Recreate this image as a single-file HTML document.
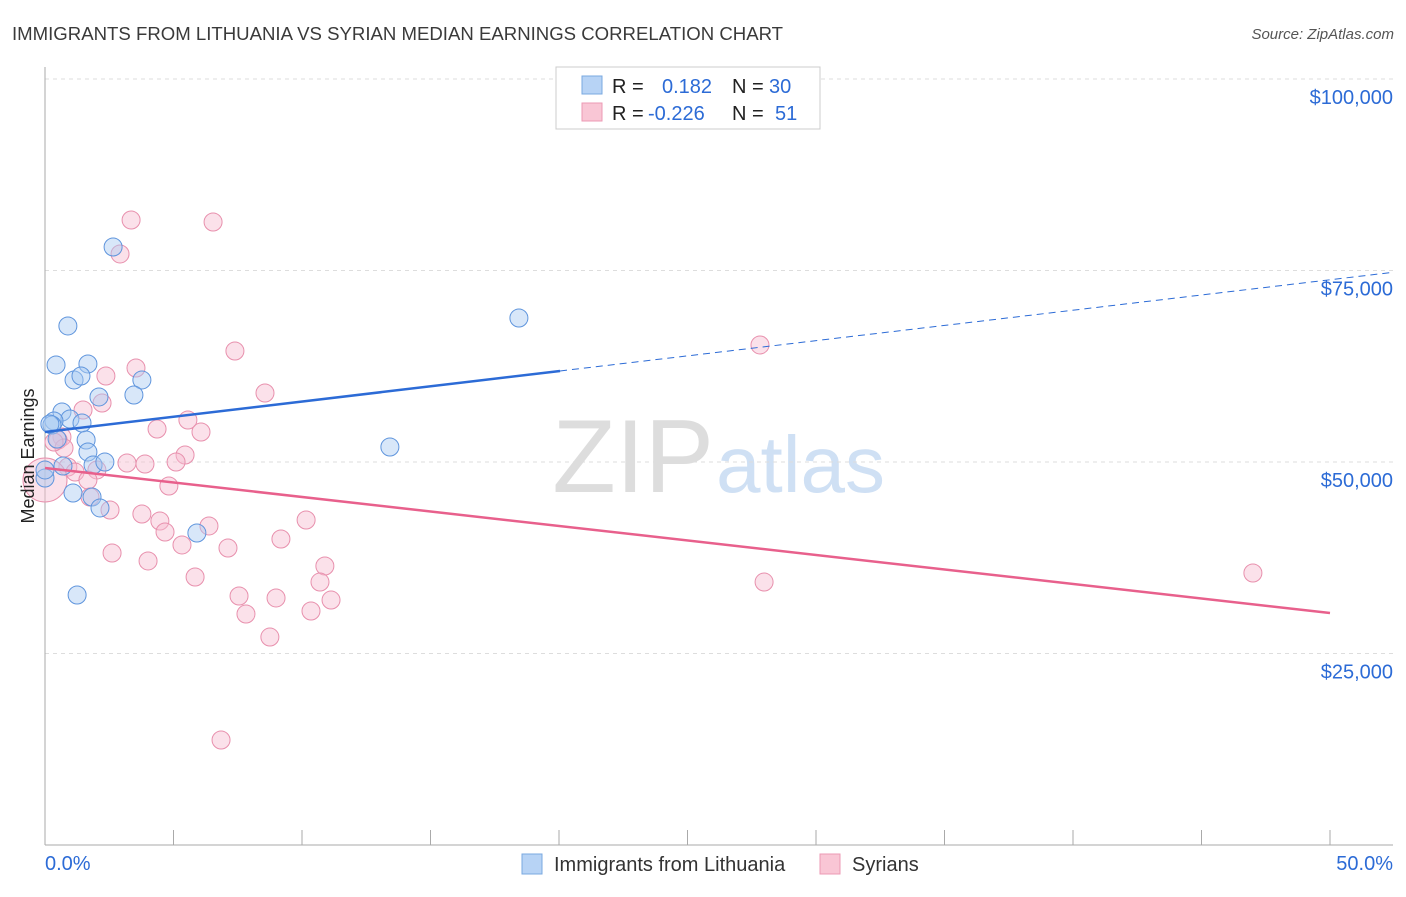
<!DOCTYPE html>
<html><head><meta charset="utf-8"><style>
body{margin:0;background:#fff;font-family:"Liberation Sans",sans-serif;}
svg text{font-family:"Liberation Sans",sans-serif;}
</style></head><body>
<svg id="c" width="1406" height="892">
<text x="12" y="40" font-size="18.6" fill="#3a3a3a">IMMIGRANTS FROM LITHUANIA VS SYRIAN MEDIAN EARNINGS CORRELATION CHART</text>
<text x="1394" y="39" font-size="15" fill="#555" font-style="italic" text-anchor="end">Source: ZipAtlas.com</text>
<text x="714" y="492" font-size="104" fill="#ddd" text-anchor="end" font-family="Liberation Serif">ZIP</text>
<text x="716" y="492" font-size="80" fill="#cfe0f4">atlas</text>
<g id="grid"></g>
<g id="marks"></g>
<text transform="translate(34,456) rotate(-90)" font-size="18" fill="#222" text-anchor="middle">Median Earnings</text>
<g>
<rect x="556" y="67" width="264" height="62" fill="#fff" stroke="#ccc"/>
<rect x="582" y="76" width="20" height="18" fill="#b7d3f5" stroke="#7aa8e0"/>
<rect x="582" y="103" width="20" height="18" fill="#f9c6d5" stroke="#ec9ab4"/>
<text x="612" y="93" font-size="20" fill="#222">R =</text><text x="662" y="93" font-size="20" fill="#2c6bd6">0.182</text>
<text x="732" y="93" font-size="20" fill="#222">N =</text><text x="769" y="93" font-size="20" fill="#2c6bd6">30</text>
<text x="612" y="120" font-size="20" fill="#222">R =</text><text x="648" y="120" font-size="20" fill="#2c6bd6">-0.226</text>
<text x="732" y="120" font-size="20" fill="#222">N =</text><text x="775" y="120" font-size="20" fill="#2c6bd6">51</text>
</g>
<g>
<rect x="522" y="854" width="20" height="20" fill="#b7d3f5" stroke="#7aa8e0"/>
<text x="554" y="871" font-size="20" fill="#333">Immigrants from Lithuania</text>
<rect x="820" y="854" width="20" height="20" fill="#f9c6d5" stroke="#ec9ab4"/>
<text x="852" y="871" font-size="20" fill="#333">Syrians</text>
</g>
</svg>
<script>
const blueX=[2.65,0.89,0.43,1.67,1.13,1.40,3.77,2.10,3.46,0.66,0.97,0.35,0.27,1.44,0.47,1.60,1.67,0.70,1.87,2.33,0,1.09,1.83,2.14,5.91,1.25,18.44,13.42,0.19,0];
const blueY=[78070,67760,62670,62800,60710,61230,60710,58490,58750,56530,55610,55350,54830,55090,53000,52870,51310,49480,49610,50000,47910,45950,45430,44000,40730,32640,68800,51960,54960,48960];
const pinkX=[3.35,6.54,2.92,7.39,27.82,3.54,2.37,8.56,2.22,1.48,5.56,4.36,6.07,0.66,0.51,0.74,5.45,5.10,3.89,3.19,0.89,1.17,2.02,1.67,4.82,0,3.77,4.47,4.67,6.38,9.18,10.16,5.33,7.12,2.61,4.01,5.84,10.89,10.70,27.98,47.00,7.55,8.99,11.13,7.82,10.35,8.75,6.85,1.75,0.35,2.53];
const pinkY=[81590,81330,77160,64490,65280,62270,61230,59010,57700,56790,55480,54310,53920,53260,52870,51830,50910,50000,49740,49870,49350,48690,48960,47650,46870,47650,43210,42300,40860,41650,39950,42430,39170,38770,38120,37080,34990,36420,34330,34330,35510,32510,32250,31980,30160,30550,27150,13710,45430,52610,43730];
const yTicks=[25000,50000,75000,100000];
const yTickLabels=["$25,000","$50,000","$75,000","$100,000"];
const blueTrend=[53920,397.4];
const pinkTrend=[49220,-378.6];
const NS='http://www.w3.org/2000/svg';
const X=v=>45+v/50*1285, Y=v=>845-v/50000*383;
function mk(t,a,p){const e=document.createElementNS(NS,t);for(const k in a)e.setAttribute(k,a[k]);p.appendChild(e);return e;}
const g=document.getElementById('grid'),m=document.getElementById('marks');
yTicks.forEach((v,i)=>{
 const l=mk('line',{x1:45,x2:1393,y1:Y(v),y2:Y(v),stroke:'#ddd','stroke-dasharray':'4 4'},g);
 
 
 const t=mk('text',{x:1393,y:Y(v)+25,'font-size':20,fill:'#2c6bd6','text-anchor':'end'},g);t.textContent=yTickLabels[i];
 
 
});
mk('line',{x1:45,x2:45,y1:67,y2:845,stroke:'#aaa'},g);
mk('line',{x1:45,x2:1393,y1:845,y2:845,stroke:'#aaa'},g);
for(let i=0;i<=10;i++){mk('line',{x1:X(i*5),x2:X(i*5),y1:830,y2:845,stroke:'#aaa'},g);}
let t0=mk('text',{x:45,y:870,'font-size':20,fill:'#2c6bd6'},g);t0.textContent='0.0%';


let t1=mk('text',{x:1393,y:870,'font-size':20,fill:'#2c6bd6','text-anchor':'end'},g);t1.textContent='50.0%';


function pts(xs,ys,fill,stroke,name){xs.forEach((x,i)=>{
 const big=(x===0&&name==='syrian-point');
 const c=mk('circle',{cx:X(x),cy:Y(ys[i]),r:big?22:9,fill:fill,'fill-opacity':0.45,stroke:stroke,'stroke-width':1},m);
 
 
});}
pts(pinkX,pinkY,'#f7bcd0','#e890ad','syrian-point');
pts(blueX,blueY,'#a9c9f2','#5f95dd','lithuania-point');
let l1=mk('line',{x1:X(0),y1:Y(blueTrend[0]),x2:X(20.04),y2:Y(blueTrend[0]+blueTrend[1]*20.04),stroke:'#2c6bd6','stroke-width':2.5},m);


let l2=mk('line',{x1:X(20.04),y1:Y(blueTrend[0]+blueTrend[1]*20.04),x2:X(52.45),y2:Y(blueTrend[0]+blueTrend[1]*52.45),stroke:'#2c6bd6','stroke-width':1,'stroke-dasharray':'7 5'},m);


let l3=mk('line',{x1:X(0),y1:Y(pinkTrend[0]),x2:X(50),y2:Y(pinkTrend[0]+pinkTrend[1]*50),stroke:'#e8608c','stroke-width':2.5},m);


</script>
</body></html>
